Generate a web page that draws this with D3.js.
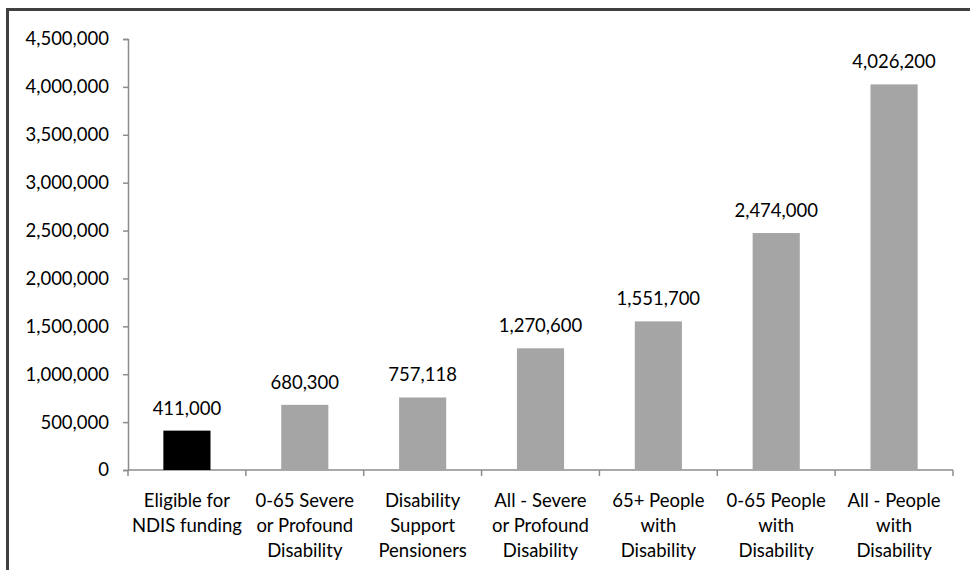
<!DOCTYPE html>
<html>
<head>
<meta charset="utf-8">
<script src="https://cdn.jsdelivr.net/npm/d3@7"></script>
<style>
  html, body { margin: 0; padding: 0; background: #fff; }
  svg { display: block; }
  text { font-family: Lato, "Open Sans", sans-serif; fill: #000; }
</style>
</head>
<body>
<svg id="chart" width="970" height="570"></svg>
<script>
// Population groups (label lines) and their counts
const categories = [
  ["Eligible for", "NDIS funding"],
  ["0-65 Severe", "or Profound", "Disability"],
  ["Disability", "Support", "Pensioners"],
  ["All - Severe", "or Profound", "Disability"],
  ["65+ People", "with", "Disability"],
  ["0-65 People", "with", "Disability"],
  ["All - People", "with", "Disability"]
];
const values = [411000, 680300, 757118, 1270600, 1551700, 2474000, 4026200];
const barColors = ["#000000", "#a5a5a5", "#a5a5a5", "#a5a5a5", "#a5a5a5", "#a5a5a5", "#a5a5a5"];
const yTicks = [0, 500000, 1000000, 1500000, 2000000, 2500000, 3000000, 3500000, 4000000, 4500000];

const svg = d3.select("#chart");
const fmt = d3.format(",");

// Outer frame
svg.append("rect")
  .attr("x", 7.5).attr("y", 9.5)
  .attr("width", 980).attr("height", 580)
  .attr("fill", "none").attr("stroke", "#404040").attr("stroke-width", 3);

const plotLeft = 128, plotRight = 953, plotTop = 39, plotBottom = 470;
const idx = d3.range(values.length);

const x = d3.scaleBand().domain(idx).range([plotLeft, plotRight]).paddingInner(0).paddingOuter(0);
const y = d3.scaleLinear().domain([0, 4500000]).range([plotBottom, plotTop]);

const axisColor = "#8c8c8c";

// Y axis
const yAxis = svg.append("g")
  .attr("transform", `translate(${plotLeft},0)`)
  .call(d3.axisLeft(y).tickValues(yTicks).tickFormat(fmt).tickSize(5).tickPadding(14));
yAxis.select(".domain").attr("stroke", axisColor).attr("stroke-width", 1.5);
yAxis.selectAll(".tick line").attr("stroke", axisColor).attr("stroke-width", 1.5);
yAxis.selectAll(".tick text").attr("font-size", 18.5).attr("font-family", "Lato, 'Open Sans', sans-serif").attr("fill", "#000");

// X axis line and category separators
const xAxis = svg.append("g")
  .attr("transform", `translate(0,${plotBottom})`);
xAxis.append("line")
  .attr("x1", plotLeft).attr("x2", plotRight).attr("y1", 0).attr("y2", 0)
  .attr("stroke", axisColor).attr("stroke-width", 1.5);
xAxis.selectAll("line.sep")
  .data(d3.range(values.length + 1))
  .join("line")
  .attr("class", "sep")
  .attr("x1", i => i < values.length ? x(i) : plotRight)
  .attr("x2", i => i < values.length ? x(i) : plotRight)
  .attr("y1", 0).attr("y2", 6)
  .attr("stroke", axisColor).attr("stroke-width", 1.5);

// Bars
const barW = x.bandwidth() * 0.4;
svg.selectAll("rect.bar")
  .data(idx)
  .join("rect")
  .attr("class", "bar")
  .attr("x", i => x(i) + (x.bandwidth() - barW) / 2)
  .attr("y", i => y(values[i]))
  .attr("width", barW)
  .attr("height", i => plotBottom - y(values[i]))
  .attr("fill", i => barColors[i]);

// Value labels above bars
svg.selectAll("text.val")
  .data(idx)
  .join("text")
  .attr("class", "val")
  .attr("x", i => x(i) + x.bandwidth() / 2)
  .attr("y", i => y(values[i]) - 16)
  .attr("text-anchor", "middle")
  .attr("font-size", 18.5)
  .text(i => fmt(values[i]));

// Category labels
const cat = svg.selectAll("text.cat")
  .data(idx)
  .join("text")
  .attr("class", "cat")
  .attr("text-anchor", "middle")
  .attr("font-size", 18.5)
  .attr("x", i => x(i) + x.bandwidth() / 2)
  .attr("y", 507);
cat.selectAll("tspan")
  .data(i => categories[i].map(t => ({ t, cx: x(i) + x.bandwidth() / 2 })))
  .join("tspan")
  .attr("x", d => d.cx)
  .attr("dy", (d, j) => j === 0 ? 0 : 25)
  .text(d => d.t);
</script>
</body>
</html>
